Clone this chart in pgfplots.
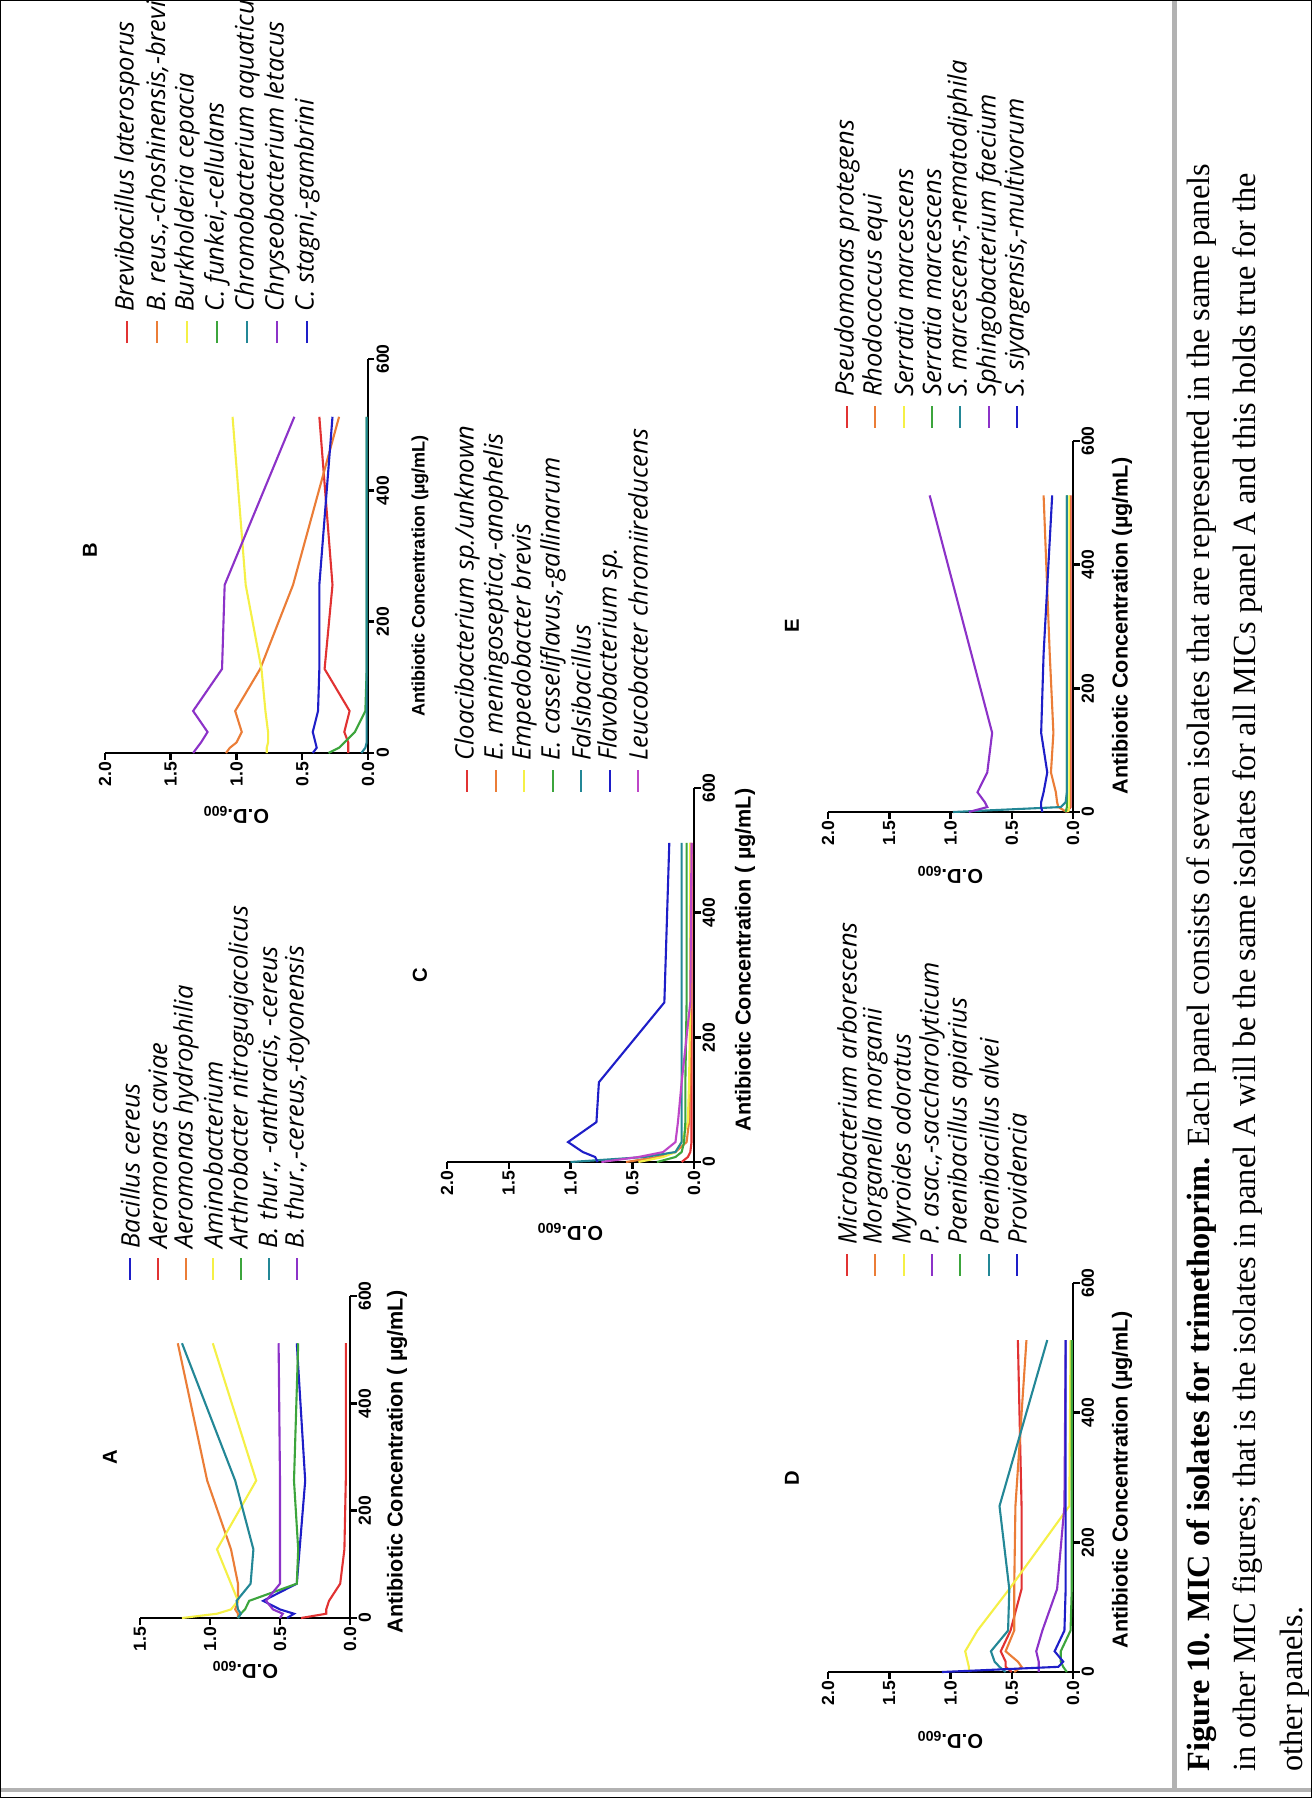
\documentclass[border=0pt]{standalone}
\usepackage{fontspec}
\usepackage{pgfplots}
\usepackage{pgfplotstable}
\pgfplotsset{compat=1.18}
\setmainfont{Liberation Serif}
\newfontfamily\arial{Liberation Sans}
\newfontfamily\osans{Open Sans}
\newcommand\tickf{\arial\bfseries\fontsize{10}{12}\selectfont}
\newcommand\labf{\arial\bfseries\fontsize{11.5}{13}\selectfont}
\newcommand\labfA{\arial\bfseries\fontsize{12.3}{14}\selectfont}
\newcommand\labfB{\arial\bfseries\fontsize{10.3}{12}\selectfont}
\newcommand\legf{\osans\itshape\fontsize{14.5}{16}\selectfont}

\definecolor{cR}{RGB}{225,50,50}
\definecolor{cO}{RGB}{235,125,55}
\definecolor{cY}{RGB}{245,240,70}
\definecolor{cG}{RGB}{60,165,60}
\definecolor{cT}{RGB}{35,135,150}
\definecolor{cP}{RGB}{140,50,200}
\definecolor{cB}{RGB}{30,30,200}
\definecolor{cM}{RGB}{190,70,200}

\pgfplotstableread{
conc a b c d e f g
0   0.45 0.35 0.80 1.20 0.80 0.80 0.50
8   0.40 0.17 0.80 0.95 0.78 0.78 0.48
16  0.50 0.17 0.82 0.85 0.75 0.80 0.55
32  0.62 0.15 0.80 0.80 0.72 0.81 0.60
64  0.38 0.07 0.80 0.85 0.38 0.71 0.50
128 0.36 0.04 0.85 0.95 0.37 0.69 0.50
256 0.32 0.03 1.02 0.67 0.40 0.82 0.50
512 0.38 0.03 1.23 0.98 0.37 1.20 0.51
}\dataA
\pgfplotstableread{
conc a b c d e f g
0   0.15 1.08 0.77 0.30 0.05 1.33 0.42
8   0.15 1.05 0.77 0.22 0.02 1.30 0.39
16  0.15 1.00 0.76 0.18 0.01 1.27 0.40
32  0.18 0.96 0.76 0.10 0.01 1.22 0.42
64  0.14 1.01 0.78 0.02 0.01 1.33 0.38
128 0.33 0.82 0.81 0.01 0.01 1.11 0.37
256 0.27 0.57 0.93 0.01 0.01 1.09 0.37
512 0.37 0.22 1.03 0.01 0.01 0.56 0.27
}\dataB
\pgfplotstableread{
conc a b c d e f g
0   0.10 0.55 0.45 0.30 1.00 0.78 0.75
8   0.05 0.30 0.25 0.15 0.40 0.80 0.45
16  0.03 0.15 0.15 0.10 0.15 0.90 0.25
32  0.02 0.06 0.10 0.08 0.10 1.02 0.15
64  0.02 0.04 0.05 0.07 0.10 0.79 0.13
128 0.02 0.03 0.04 0.07 0.10 0.77 0.10
256 0.02 0.03 0.03 0.06 0.10 0.24 0.03
512 0.02 0.03 0.03 0.06 0.10 0.20 0.02
}\dataC
\pgfplotstableread{
conc a b c d e f g
0   0.50 0.48 0.85 0.28 0.05 0.55 1.07
8   0.55 0.42 0.85 0.28 0.08 0.60 0.12
16  0.55 0.45 0.86 0.28 0.10 0.64 0.08
32  0.59 0.55 0.88 0.30 0.10 0.67 0.15
64  0.51 0.48 0.78 0.25 0.02 0.53 0.07
128 0.42 0.48 0.52 0.13 0.01 0.52 0.06
256 0.42 0.47 0.03 0.07 0.01 0.60 0.06
512 0.45 0.38 0.02 0.06 0.01 0.21 0.06
}\dataD
\pgfplotstableread{
conc a b c d e f g
0   0.05 0.05 0.04 0.06 0.98 0.85 0.25
8   0.02 0.12 0.03 0.05 0.10 0.70 0.26
16  0.02 0.13 0.03 0.05 0.06 0.72 0.26
32  0.02 0.14 0.03 0.05 0.05 0.78 0.24
64  0.02 0.18 0.03 0.05 0.05 0.70 0.21
128 0.02 0.16 0.03 0.05 0.05 0.66 0.26
256 0.02 0.19 0.03 0.05 0.05 0.83 0.24
512 0.02 0.24 0.03 0.05 0.05 1.17 0.17
}\dataE

\pgfplotsset{
  panel/.style={
    scale only axis, clip=false,
    x dir=reverse, xmin=0, xmax=2, ymin=0, ymax=600,
    axis x line*=bottom, axis y line*=right,
    axis line style={line width=0.5mm, -},
    tick align=outside, major tick length=1.3mm,
    tick style={line width=0.5mm, black},
    xtick={0,0.5,1,1.5,2}, xticklabels={0.0,0.5,1.0,1.5,2.0},
    ytick={0,200,400,600}, yticklabels={0,200,400,600},
    xticklabel style={rotate=90, anchor=east, font=\tickf, inner sep=1pt},
    yticklabel style={rotate=90, anchor=north, font=\tickf, inner sep=1pt},
    every axis plot/.append style={line width=0.42mm, mark=none},
  }
}

\newcommand\leg[4]{%
  \draw[#3, line width=0.45mm] (#1,#2) -- (#1,{#2-22});
  \node[rotate=90, anchor=west, inner sep=0pt, font=\legf] at (#1,{#2-31}) {#4};}

\begin{document}
\begin{tikzpicture}
\path[use as bounding box] (0,0) rectangle (262.4mm,-359.6mm);
\clip (0,0) rectangle (262.4mm,-359.6mm);
\fill[white] (0,0) rectangle (262.4mm,-359.6mm);

% ---------- Panel A ----------
\begin{axis}[panel, at={(70mm,-323.6mm)}, anchor=origin, width=42mm, height=64.4mm,
  xmax=1.5, xtick={0,0.5,1,1.5}, xticklabels={0.0,0.5,1.0,1.5}]
\addplot[cB] table[x=a, y=conc] {\dataA};
\addplot[cR] table[x=b, y=conc] {\dataA};
\addplot[cO] table[x=c, y=conc] {\dataA};
\addplot[cY] table[x=d, y=conc] {\dataA};
\addplot[cG] table[x=e, y=conc] {\dataA};
\addplot[cT] table[x=f, y=conc] {\dataA};
\addplot[cP] table[x=g, y=conc] {\dataA};
\end{axis}

% ---------- Panel B ----------
\begin{axis}[panel, at={(73.6mm,-150.6mm)}, anchor=origin, width=52.6mm, height=78.8mm]
\addplot[cR] table[x=a, y=conc] {\dataB};
\addplot[cO] table[x=b, y=conc] {\dataB};
\addplot[cY] table[x=c, y=conc] {\dataB};
\addplot[cG] table[x=d, y=conc] {\dataB};
\addplot[cT] table[x=e, y=conc] {\dataB};
\addplot[cP] table[x=f, y=conc] {\dataB};
\addplot[cB] table[x=g, y=conc] {\dataB};
\end{axis}

% ---------- Panel C ----------
\begin{axis}[panel, at={(138.8mm,-232.4mm)}, anchor=origin, width=49.4mm, height=74.8mm]
\addplot[cR] table[x=a, y=conc] {\dataC};
\addplot[cO] table[x=b, y=conc] {\dataC};
\addplot[cY] table[x=c, y=conc] {\dataC};
\addplot[cG] table[x=d, y=conc] {\dataC};
\addplot[cT] table[x=e, y=conc] {\dataC};
\addplot[cB] table[x=f, y=conc] {\dataC};
\addplot[cM] table[x=g, y=conc] {\dataC};
\end{axis}

% ---------- Panel D ----------
\begin{axis}[panel, at={(214.6mm,-334.4mm)}, anchor=origin, width=49mm, height=77.8mm]
\addplot[cR] table[x=a, y=conc] {\dataD};
\addplot[cO] table[x=b, y=conc] {\dataD};
\addplot[cY] table[x=c, y=conc] {\dataD};
\addplot[cP] table[x=d, y=conc] {\dataD};
\addplot[cG] table[x=e, y=conc] {\dataD};
\addplot[cT] table[x=f, y=conc] {\dataD};
\addplot[cB] table[x=g, y=conc] {\dataD};
\end{axis}

% ---------- Panel E ----------
\begin{axis}[panel, at={(214.6mm,-162.4mm)}, anchor=origin, width=49mm, height=74.2mm]
\addplot[cR] table[x=a, y=conc] {\dataE};
\addplot[cO] table[x=b, y=conc] {\dataE};
\addplot[cY] table[x=c, y=conc] {\dataE};
\addplot[cG] table[x=d, y=conc] {\dataE};
\addplot[cT] table[x=e, y=conc] {\dataE};
\addplot[cP] table[x=f, y=conc] {\dataE};
\addplot[cB] table[x=g, y=conc] {\dataE};
\end{axis}

\begin{scope}[x=0.2mm, y=-0.2mm]
% A labels and legend
\node[rotate=90, font=\labf] at (110,1457) {A};
\node[rotate=90, font=\labfA] at (397,1462) {Antibiotic Concentration ( µg/mL)};
\node[rotate=180, font=\labf] at (245,1670) {O.D.\textsubscript{600}};
\leg{130}{1280}{cB}{Bacillus cereus}
\leg{158}{1280}{cR}{Aeromonas caviae}
\leg{186}{1280}{cO}{Aeromonas hydrophilia}
\leg{213}{1280}{cY}{Aminobacterium}
\leg{241}{1280}{cG}{Arthrobacter nitroguajacolicus}
\leg{269}{1280}{cT}{B. thur., -anthracis, -cereus}
\leg{297}{1280}{cP}{B. thur.,-cereus,-toyonensis}
% B
\node[rotate=90, font=\labf] at (90,550) {B};
\node[rotate=90, font=\labfB] at (420,576) {Antibiotic Concentration (µg/mL)};
\node[rotate=180, font=\labf] at (236,815) {O.D.\textsubscript{600}};
\leg{127}{343}{cR}{Brevibacillus laterosporus}
\leg{157}{343}{cO}{B. reus.,-choshinensis,-brevis}
\leg{187}{343}{cY}{Burkholderia cepacia}
\leg{217}{343}{cG}{C. funkei,-cellulans}
\leg{247}{343}{cT}{Chromobacterium aquaticum}
\leg{277}{343}{cP}{Chryseobacterium letacus}
\leg{307}{343}{cB}{C. stagni,-gambrini}
% C
\node[rotate=90, font=\labf] at (420,975) {C};
\node[rotate=90, font=\labfA] at (745,960) {Antibiotic Concentration ( µg/mL)};
\node[rotate=180, font=\labf] at (570,1232) {O.D.\textsubscript{600}};
\leg{467}{792}{cR}{Cloacibacterium sp./unknown}
\leg{496}{792}{cO}{E. meningoseptica,-anophelis}
\leg{524}{792}{cY}{Empedobacter brevis}
\leg{553}{792}{cG}{E. casseliflavus,-gallinarum}
\leg{581}{792}{cT}{Falsibacillus}
\leg{610}{792}{cB}{Flavobacterium sp.}
\leg{638}{792}{cM}{Leucobacter chromiireducens}
% D
\node[rotate=90, font=\labf] at (792,1478) {D};
\node[rotate=90, font=\labfA] at (1122,1480) {Antibiotic Concentration (µg/mL)};
\node[rotate=180, font=\labf] at (950,1740) {O.D.\textsubscript{600}};
\leg{847}{1276}{cR}{Microbacterium arborescens}
\leg{875}{1276}{cO}{Morganella morganii}
\leg{904}{1276}{cY}{Myroides odoratus}
\leg{932}{1276}{cP}{P. asac.,-saccharolyticum}
\leg{960}{1276}{cG}{Paenibacillus apiarius}
\leg{989}{1276}{cT}{Paenibacillus alvei}
\leg{1017}{1276}{cB}{Providencia}
% E
\node[rotate=90, font=\labf] at (792,626) {E};
\node[rotate=90, font=\labfA] at (1122,626) {Antibiotic Concentration (µg/mL)};
\node[rotate=180, font=\labf] at (950,875) {O.D.\textsubscript{600}};
\leg{847}{428}{cR}{Pseudomonas protegens}
\leg{875}{428}{cO}{Rhodococcus equi}
\leg{904}{428}{cY}{Serratia marcescens}
\leg{932}{428}{cG}{Serratia marcescens}
\leg{960}{428}{cT}{S. marcescens,-nematodiphila}
\leg{989}{428}{cP}{Sphingobacterium faecium}
\leg{1017}{428}{cB}{S. siyangensis,-multivorum}

% Caption and frame
\node[rotate=90, anchor=north west, inner sep=0pt, align=left,
      font=\fontsize{18.4}{26.6}\selectfont] at (1186,1772)
  {\textbf{Figure 10. MIC of isolates for trimethoprim.} Each panel consists of seven isolates that are represented in the same panels\\
   in other MIC figures; that is the isolates in panel A will be the same isolates for all MICs panel A and this holds true for the\\
   other panels.};
\draw[gray!60, line width=1mm] (1175,0) -- (1175,1790);
\draw[gray!60, line width=0.8mm] (0,1790) -- (1312,1790);
\draw[black, line width=0.35mm] (0,0) rectangle (1312,1798);
\end{scope}
\end{tikzpicture}
\end{document}
